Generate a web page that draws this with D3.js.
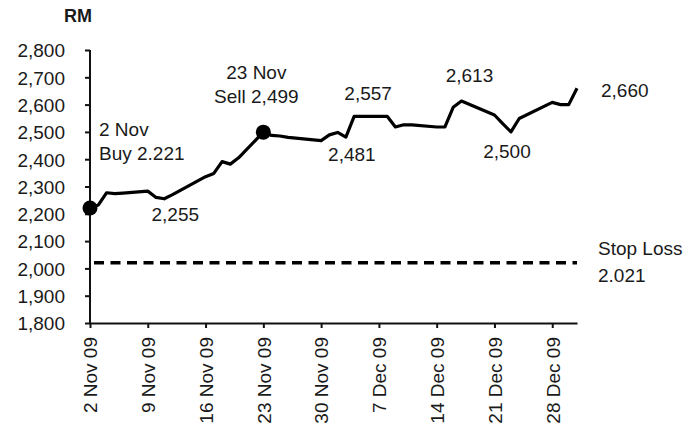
<!DOCTYPE html>
<html>
<head>
<meta charset="utf-8">
<script src="https://cdn.jsdelivr.net/npm/d3@7"></script>
<style>
  body { margin: 0; background: #fff; }
  svg text { font-family: "Liberation Sans", Arial, sans-serif; fill: #1a1a1a; }
</style>
</head>
<body>
<div id="chart"></div>
<script>
// trading days and closing index (RM)
var days = ["2009-11-02","2009-11-03","2009-11-04","2009-11-05","2009-11-06",
  "2009-11-09","2009-11-10","2009-11-11","2009-11-12","2009-11-13",
  "2009-11-16","2009-11-17","2009-11-18","2009-11-19","2009-11-20",
  "2009-11-23","2009-11-24","2009-11-25","2009-11-26","2009-11-30",
  "2009-12-01","2009-12-02","2009-12-03","2009-12-04","2009-12-07",
  "2009-12-08","2009-12-09","2009-12-10","2009-12-11","2009-12-14",
  "2009-12-15","2009-12-16","2009-12-17","2009-12-21","2009-12-22",
  "2009-12-23","2009-12-24","2009-12-28","2009-12-29","2009-12-30","2009-12-31"]
var closes = [2221,2232,2277,2274,2276,
  2283,2260,2255,2270,2287,
  2336,2348,2391,2382,2405,
  2499,2487,2485,2480,2468,
  2489,2498,2481,2557,2557,
  2557,2518,2526,2526,2518,
  2518,2590,2613,2562,2530,
  2500,2549,2608,2600,2600,2660]
var stopLoss = 2021
var yTicks = [1800,1900,2000,2100,2200,2300,2400,2500,2600,2700,2800]
var xTicks = ["2009-11-02","2009-11-09","2009-11-16","2009-11-23","2009-11-30",
  "2009-12-07","2009-12-14","2009-12-21","2009-12-28"]
var trades = ["2009-11-02","2009-11-23"]

// callouts: anchor day + text lines
var callouts = [
  {day: "2009-11-02", lines: ["2 Nov", "Buy 2.221"]},
  {day: "2009-11-23", lines: ["23 Nov", "Sell 2,499"]},
  {day: "2009-11-11", lines: ["2,255"]},
  {day: "2009-12-03", lines: ["2,481"]},
  {day: "2009-12-04", lines: ["2,557"]},
  {day: "2009-12-17", lines: ["2,613"]},
  {day: "2009-12-23", lines: ["2,500"]},
  {day: "2009-12-31", lines: ["2,660"]}
]
var stopText = ["Stop Loss", "2.021"]

var parse = d3.timeParse("%Y-%m-%d")
var data = days.map((d, i) => ({date: parse(d), v: closes[i]}))

var W = 691, H = 423
var svg = d3.select("#chart").append("svg")
  .attr("width", W).attr("height", H)

var x = d3.scaleTime()
  .domain([parse(days[0]), parse(days[days.length - 1])])
  .range([90, 577])
var y = d3.scaleLinear().domain([1800, 2800]).range([323, 50])

/* axes */
var yAxis = svg.append("g").attr("transform", "translate(90,0)")
  .call(d3.axisLeft(y).tickValues(yTicks).tickFormat(d3.format(",")).tickSize(5).tickSizeOuter(0).tickPadding(20))
yAxis.selectAll("text").style("font-size", "19px").attr("dy", "0.36em")

var xAxis = svg.append("g").attr("transform", "translate(0,323)")
  .call(d3.axisBottom(x).tickValues(xTicks.map(parse)).tickFormat(d3.timeFormat("%-d %b %y")).tickSize(5).tickSizeOuter(0))
xAxis.selectAll("text")
  .style("font-size", "19px")
  .attr("transform", "rotate(-90)")
  .attr("x", -14).attr("y", 0).attr("dy", "0.36em")
  .style("text-anchor", "end")

svg.selectAll(".domain, .tick line").attr("stroke", "#111").attr("stroke-width", 2)
yAxis.select(".domain").attr("d", "M0,50V323")

svg.append("text").attr("x", 64).attr("y", 22)
  .style("font-size", "18px").style("font-weight", "bold").text("RM")

/* stop loss */
svg.append("line")
  .attr("x1", x(parse(days[0]))).attr("x2", x(parse(days[days.length - 1])))
  .attr("y1", y(stopLoss)).attr("y2", y(stopLoss))
  .attr("stroke", "#000").attr("stroke-width", 3.5)
  .attr("stroke-dasharray", "10,6.5").attr("stroke-dashoffset", -4)

/* price line */
var line = d3.line().x(d => x(d.date)).y(d => y(d.v))
svg.append("path").datum(data)
  .attr("d", line).attr("fill", "none")
  .attr("stroke", "#000").attr("stroke-width", 3.2).attr("stroke-linejoin", "round")

svg.selectAll(".trade").data(trades).enter()
  .append("circle").attr("class", "trade")
  .attr("cx", d => x(parse(d)))
  .attr("cy", d => y(data.find(p => +p.date === +parse(d)).v))
  .attr("r", 7.5).attr("fill", "#000")

/* label placement relative to the anchor point */
var place = {
  "2009-11-02": {dx: 9, dy: -72, gap: 24, anchor: "start"},
  "2009-11-23": {dx: -7, dy: -53, gap: 24, anchor: "middle"},
  "2009-11-11": {dx: 11, dy: 22, anchor: "middle"},
  "2009-12-03": {dx: 6, dy: 24, anchor: "middle"},
  "2009-12-04": {dx: 14, dy: -16, anchor: "middle"},
  "2009-12-17": {dx: 8, dy: -19, anchor: "middle"},
  "2009-12-23": {dx: -4, dy: 26, anchor: "middle"},
  "2009-12-31": {dx: 24, dy: 9, anchor: "start"}
}
callouts.forEach(c => {
  var p = data.find(d => +d.date === +parse(c.day))
  var s = place[c.day]
  c.lines.forEach((t, i) => {
    svg.append("text")
      .attr("x", x(p.date) + s.dx)
      .attr("y", y(p.v) + s.dy + i * (s.gap || 0))
      .attr("text-anchor", s.anchor)
      .style("font-size", "19px")
      .text(t)
  })
})

stopText.forEach((t, i) => {
  svg.append("text")
    .attr("x", x(parse(days[days.length - 1])) + 21)
    .attr("y", y(stopLoss) - 8 + i * 27)
    .style("font-size", "19px")
    .text(t)
})
</script>
</body>
</html>
